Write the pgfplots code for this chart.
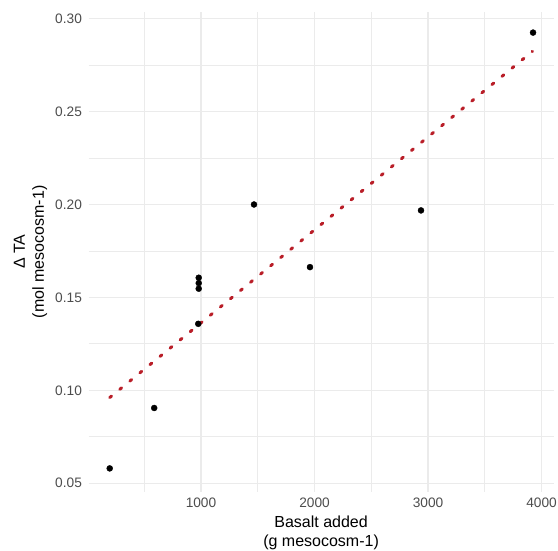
\documentclass[border=0pt]{standalone}
\usepackage{fontspec}
\setmainfont{Liberation Sans}
\usepackage{pgfplots}
\pgfplotsset{compat=1.18}
\definecolor{gridc}{HTML}{EBEBEB}
\definecolor{tickc}{HTML}{4D4D4D}
\definecolor{fitc}{RGB}{185,30,40}
\begin{document}
\begin{tikzpicture}
\path[use as bounding box] (0,0) rectangle (558pt,551pt);
\begin{axis}[
  at={(88.6pt,59pt)}, anchor=south west,
  scale only axis, width=465pt, height=480.4pt,
  xmin=10, xmax=4106, ymin=0.0453, ymax=0.3038,
  axis line style={draw=none},
  major tick length=0pt, minor tick length=0pt,
  xtick={1000,2000,3000,4000},
  minor xtick={500,1500,2500,3500},
  ytick={0.05,0.10,0.15,0.20,0.25,0.30},
  minor ytick={0.075,0.125,0.175,0.225,0.275},
  grid=both,
  major grid style={draw=gridc, line width=1.4pt},
  minor grid style={draw=gridc, line width=0.8pt},
  /pgf/number format/assume math mode=true,
  /pgf/number format/1000 sep={},
  scaled ticks=false,
  tick label style={font=\fontsize{13.7}{16}\selectfont, text=tickc},
  xticklabel style={anchor=north, inner sep=0pt, yshift=-6pt},
  yticklabel style={/pgf/number format/.cd, fixed, fixed zerofill, precision=2, /tikz/.cd, anchor=east, inner sep=0pt, xshift=-6.5pt},
  xlabel={Basalt added\\(g mesocosm-1)},
  ylabel={Δ TA\\(mol mesocosm-1)},
  xlabel style={at={(axis description cs:0.5,0)}, anchor=north, inner sep=0pt, yshift=-24pt, align=center, font=\fontsize{16}{19}\selectfont},
  ylabel style={at={(axis description cs:-0.1247,0.5)}, anchor=center, inner sep=0pt, align=center, font=\fontsize{16}{19}\selectfont},
]
\addplot[fitc, line width=3pt, dash pattern=on 2.4pt off 10.6pt, line cap=round, forget plot] coordinates {(196,0.0961) (3920,0.2824)};
\addplot[only marks, mark=*, mark size=3pt, black] coordinates {
(196,0.058) (588,0.0905) (976,0.1358) (980,0.1547) (980,0.1577) (980,0.1606)
(1467,0.200) (1960,0.1663) (2938,0.1968) (3925,0.2925)};
\end{axis}
\end{tikzpicture}
\end{document}
